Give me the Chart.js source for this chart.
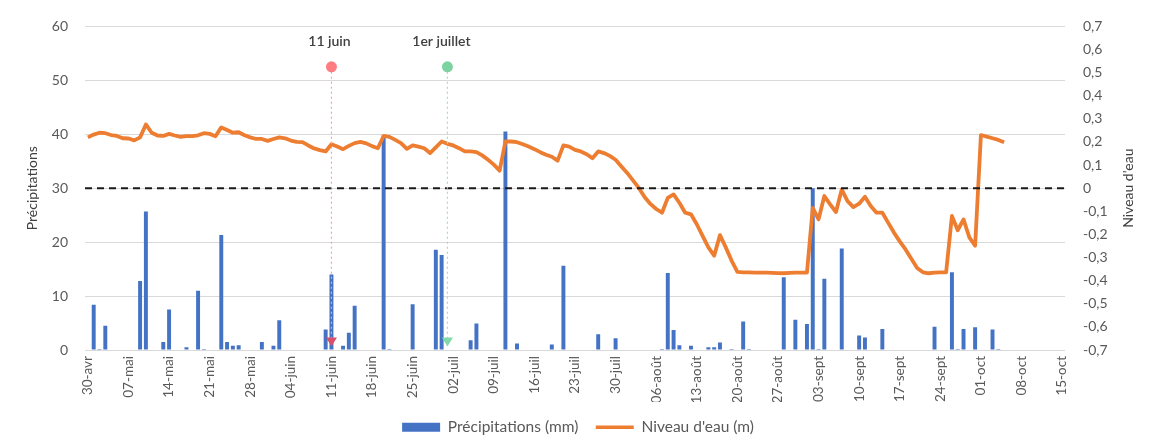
<!DOCTYPE html>
<html lang="fr">
<head>
<meta charset="utf-8">
<title>Précipitations et niveau d'eau</title>
<script src="https://cdn.jsdelivr.net/npm/chart.js@4"></script>
<style>
  body { margin: 0; background: #fff; }
</style>
</head>
<body>
<canvas id="myChart" width="1156" height="441"></canvas>
<script>
// Jours affichés : du 30 avril au 15 octobre
const moisAbr = ["avr", "mai", "juin", "juil", "août", "sept", "oct"];
const moisJours = [30, 31, 30, 31, 31, 30, 31];
const jours = [];
for (let m = 0; m < moisAbr.length; m++) {
  const debut = m == 0 ? 30 : 1;
  const fin = m == moisAbr.length - 1 ? 15 : moisJours[m];
  for (let j = debut; j <= fin; j++) {
    jours.push(String(j).padStart(2, "0") + "-" + moisAbr[m]);
  }
}

// Précipitations journalières (mm), jours sans pluie omis
const pluieDates = [
  "01-mai", "02-mai", "03-mai", "09-mai", "10-mai", "13-mai", "14-mai", "17-mai",
  "19-mai", "20-mai", "23-mai", "24-mai", "25-mai", "26-mai", "30-mai",
  "01-juin", "02-juin", "10-juin", "11-juin", "13-juin", "14-juin", "15-juin",
  "20-juin", "21-juin", "25-juin", "29-juin", "30-juin",
  "05-juil", "06-juil", "11-juil", "13-juil", "19-juil", "21-juil", "27-juil", "30-juil",
  "07-août", "08-août", "09-août", "10-août", "12-août", "15-août", "16-août",
  "17-août", "19-août", "21-août", "22-août", "28-août", "30-août",
  "01-sept", "02-sept", "03-sept", "04-sept", "07-sept", "10-sept", "11-sept",
  "14-sept", "23-sept", "26-sept", "27-sept", "28-sept", "30-sept",
  "03-oct", "04-oct"
];
const pluieMm = [
  8.4, 0.2, 4.5, 12.8, 25.7, 1.5, 7.5, 0.5,
  11.0, 0.2, 21.3, 1.5, 0.8, 0.9, 1.5,
  0.8, 5.5, 3.8, 14.0, 0.8, 3.2, 8.2,
  39.8, 0.2, 8.5, 18.6, 17.6,
  1.8, 4.9, 40.5, 1.2, 1.0, 15.6, 2.9, 2.2,
  0.2, 14.3, 3.7, 0.9, 0.8, 0.5, 0.5,
  1.4, 0.2, 5.3, 0.2, 13.5, 5.6,
  4.8, 30.0, 0.2, 13.2, 18.8, 2.7, 2.3,
  3.9, 4.3, 14.4, 0.2, 3.9, 4.2,
  3.8, 0.2
];

// Niveau d'eau journalier (m), à partir du 30 avril
const niveauEau = [
  0.220, 0.232, 0.240, 0.238, 0.230, 0.226, 0.216, 0.215, 0.207, 0.220,
  0.276, 0.240, 0.228, 0.226, 0.235, 0.228, 0.222, 0.225, 0.225, 0.229,
  0.238, 0.235, 0.225, 0.263, 0.252, 0.240, 0.242, 0.229, 0.220, 0.213,
  0.213, 0.205, 0.213, 0.220, 0.216, 0.206, 0.200, 0.199, 0.185, 0.172,
  0.165, 0.159, 0.190, 0.180, 0.169, 0.183, 0.195, 0.200, 0.194, 0.182,
  0.173, 0.226, 0.222, 0.209, 0.195, 0.170, 0.185, 0.180, 0.173, 0.152,
  0.177, 0.202, 0.192, 0.185, 0.173, 0.159, 0.159, 0.156, 0.142, 0.123,
  0.102, 0.076, 0.202, 0.202, 0.199, 0.190, 0.180, 0.169, 0.156, 0.145,
  0.136, 0.119, 0.185, 0.180, 0.166, 0.159, 0.147, 0.130, 0.159, 0.152,
  0.140, 0.123, 0.094, 0.066, 0.034, 0.001, -0.038, -0.068, -0.090, -0.106,
  -0.042, -0.027, -0.063, -0.106, -0.113, -0.156, -0.206, -0.256, -0.292, -0.203,
  -0.256, -0.313, -0.362, -0.364, -0.364, -0.365, -0.365, -0.365, -0.366, -0.367,
  -0.368, -0.366, -0.365, -0.365, -0.365, -0.085, -0.135, -0.034, -0.070, -0.103,
  -0.006, -0.056, -0.082, -0.067, -0.037, -0.077, -0.106, -0.106, -0.149, -0.192,
  -0.230, -0.265, -0.305, -0.345, -0.364, -0.368, -0.365, -0.364, -0.364, -0.120,
  -0.182, -0.135, -0.213, -0.249, 0.230, 0.223, 0.216, 0.209, 0.199
];

// Dates repères
const reperesDates = ["11-juin", "01-juil"];
const reperesTextes = ["11 juin", "1er juillet"];

const gris = "#595959";
Chart.defaults.font.family = "Lato, 'Noto Sans', sans-serif";
Chart.defaults.color = gris;

// ligne pointillée du niveau 0 + titre de l'axe de droite (lu de bas en haut)
const niveauZero = {
  id: "niveauZero",
  afterDatasetsDraw(chart) {
    const { ctx, chartArea, scales } = chart;
    const py = scales.y1.getPixelForValue(0);
    ctx.save();
    ctx.strokeStyle = "#1a1a1a";
    ctx.lineWidth = 2;
    ctx.setLineDash([7, 5]);
    ctx.beginPath();
    ctx.moveTo(chartArea.left, py);
    ctx.lineTo(chartArea.right, py);
    ctx.stroke();
    ctx.restore();

    ctx.save();
    ctx.translate(1128, (chartArea.top + chartArea.bottom) / 2);
    ctx.rotate(-Math.PI / 2);
    ctx.font = "14px Lato, 'Noto Sans', sans-serif";
    ctx.fillStyle = "#404040";
    ctx.textAlign = "center";
    ctx.textBaseline = "middle";
    ctx.fillText("Niveau d'eau", 0, 0);
    ctx.restore();
  },
};

// repères verticaux : rond en haut, flèche en bas, trait pointillé entre les deux
const couleursReperes = [
  { trait: "#F3A3A3", rond: "#FF7C80", fleche: "#D9506C" },
  { trait: "#9FE0BB", rond: "#7DD3A0", fleche: "#82D9AA" },
];
const reperes = {
  id: "reperes",
  afterDatasetsDraw(chart) {
    const { ctx, scales } = chart;
    const x = scales.x;
    const y = scales.y;
    reperesDates.forEach((date, i) => {
      const c = couleursReperes[i];
      const px = x.getPixelForValue(jours.indexOf(date));
      const yRond = y.getPixelForValue(52.5);
      const yFleche = y.getPixelForValue(1.5);
      const yTexte = y.getPixelForValue(57.2);
      ctx.save();
      ctx.strokeStyle = c.trait;
      ctx.lineWidth = 1.2;
      ctx.setLineDash([2, 3]);
      ctx.beginPath();
      ctx.moveTo(px, yRond);
      ctx.lineTo(px, yFleche);
      ctx.stroke();
      ctx.setLineDash([]);

      ctx.fillStyle = c.rond;
      ctx.beginPath();
      ctx.arc(px, yRond, 5.5, 0, Math.PI * 2);
      ctx.fill();

      ctx.fillStyle = c.fleche;
      ctx.beginPath();
      ctx.moveTo(px - 5.5, yFleche - 4.5);
      ctx.lineTo(px + 5.5, yFleche - 4.5);
      ctx.lineTo(px, yFleche + 4.5);
      ctx.closePath();
      ctx.fill();

      ctx.font = "600 14px Lato, 'Noto Sans', sans-serif";
      ctx.fillStyle = "#404040";
      ctx.textAlign = "center";
      ctx.textBaseline = "middle";
      ctx.fillText(reperesTextes[i], i == 1 ? px - 6 : px - 2, yTexte);
      ctx.restore();
    });
  },
};

const barData = jours.map((j) => {
  const k = pluieDates.indexOf(j);
  return k >= 0 ? pluieMm[k] : null;
});
const lineData = jours.map((j, i) => (i < niveauEau.length ? niveauEau[i] : null));

const ctx = document.getElementById("myChart").getContext("2d");
const myChart = new Chart(ctx, {
  type: "bar",
  data: {
    labels: jours,
    datasets: [
      {
        type: "bar",
        label: "Précipitations (mm)",
        data: barData,
        backgroundColor: "#4472C4",
        barPercentage: 0.68,
        categoryPercentage: 1,
        yAxisID: "y",
        order: 2,
      },
      {
        type: "line",
        label: "Niveau d'eau (m)",
        data: lineData,
        borderColor: "#ED7D31",
        backgroundColor: "#ED7D31",
        borderWidth: 3.8,
        pointRadius: 0,
        tension: 0,
        borderJoinStyle: "round",
        spanGaps: false,
        yAxisID: "y1",
        order: 1,
      },
    ],
  },
  options: {
    responsive: false,
    animation: false,
    devicePixelRatio: 1,
    layout: { padding: { top: 24, bottom: -4, left: 0, right: 0 } },
    plugins: {
      tooltip: { enabled: false },
      legend: {
        position: "bottom",
        labels: {
          color: gris,
          font: { size: 15.5 },
          padding: 17.5,
          usePointStyle: true,
          pointStyleWidth: 38,
          boxHeight: 9,
          sort: (a, b) => a.datasetIndex - b.datasetIndex,
          generateLabels(chart) {
            const items = Chart.defaults.plugins.legend.labels.generateLabels(chart);
            items.forEach((it) => {
              if (it.datasetIndex == 0) {
                it.pointStyle = "rect";
                it.lineWidth = 0;
              } else {
                it.pointStyle = "line";
                it.lineWidth = 3.5;
                it.strokeStyle = "#ED7D31";
              }
            });
            return items;
          },
        },
      },
    },
    scales: {
      x: {
        offset: true,
        grid: { display: false, drawTicks: false },
        border: { display: false },
        ticks: {
          autoSkip: false,
          minRotation: 90,
          maxRotation: 90,
          padding: 6,
          font: { size: 13.5 },
          color: gris,
          callback: (v, i) => (i % 7 == 0 ? jours[i] : null),
        },
        afterFit: (scale) => {
          scale.height = 52;
        },
      },
      y: {
        position: "left",
        min: 0,
        max: 60,
        grid: { color: "#D9D9D9", lineWidth: 1, drawTicks: false },
        border: { display: false },
        ticks: { stepSize: 10, padding: 17, font: { size: 14 }, color: gris },
        title: {
          display: true,
          text: "Précipitations",
          color: "#404040",
          font: { size: 14 },
          padding: { top: 24, bottom: 0 },
        },
        afterFit: (scale) => {
          scale.width = 85;
        },
      },
      y1: {
        position: "right",
        min: -0.7,
        max: 0.7,
        grid: { display: false, drawTicks: false },
        border: { display: false },
        ticks: {
          stepSize: 0.1,
          padding: 18,
          font: { size: 14 },
          color: gris,
          callback: (v) => {
            const r = Math.round(v * 10) / 10;
            return r == 0 ? "0" : r.toFixed(1).replace(".", ",");
          },
        },
        afterFit: (scale) => {
          scale.width = 91;
        },
      },
    },
  },
  plugins: [niveauZero, reperes],
});
</script>
</body>
</html>
